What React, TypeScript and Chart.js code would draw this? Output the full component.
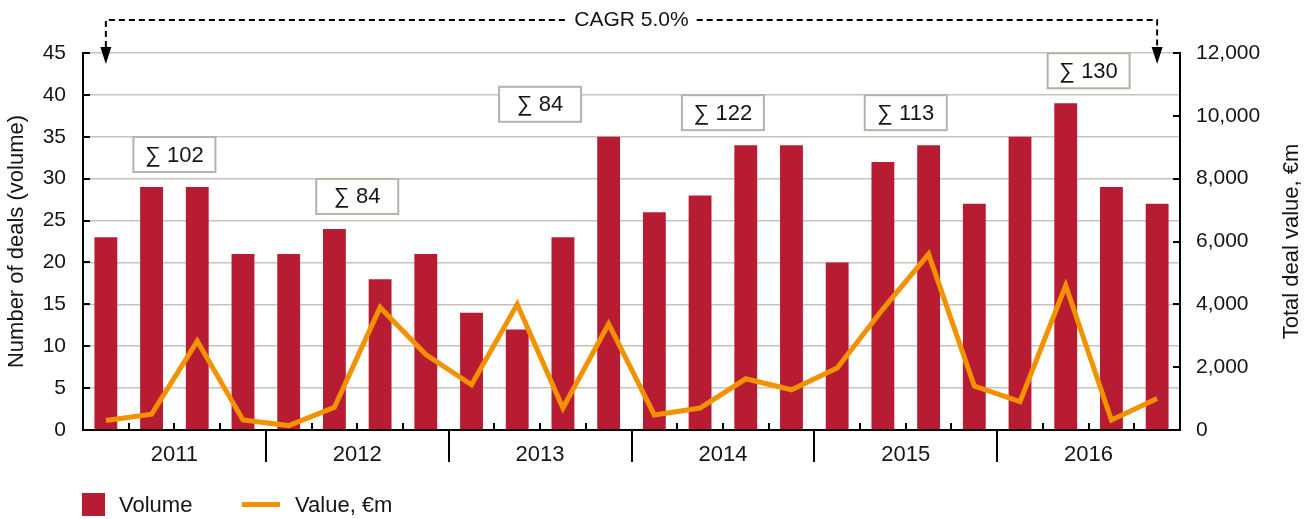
import React, { useEffect, useRef } from "react";
import { Chart, registerables } from "chart.js";

Chart.register(...registerables);

// ---- data ----
const quarters = [
  "Q1 2011", "Q2 2011", "Q3 2011", "Q4 2011",
  "Q1 2012", "Q2 2012", "Q3 2012", "Q4 2012",
  "Q1 2013", "Q2 2013", "Q3 2013", "Q4 2013",
  "Q1 2014", "Q2 2014", "Q3 2014", "Q4 2014",
  "Q1 2015", "Q2 2015", "Q3 2015", "Q4 2015",
  "Q1 2016", "Q2 2016", "Q3 2016", "Q4 2016",
];
const years = ["2011", "2012", "2013", "2014", "2015", "2016"];
const volume = [23, 29, 29, 21, 21, 24, 18, 21, 14, 12, 23, 35, 26, 28, 34, 34, 20, 32, 34, 27, 35, 39, 29, 27];
const valueEm = [300, 500, 2830, 320, 140, 725, 3900, 2400, 1440, 4000, 700, 3380, 480, 700, 1630, 1280, 1970, 3850, 5600, 1400, 900, 4600, 320, 1000];
const volumeTicks = { min: 0, max: 45, step: 5 };
const valueTicks = { min: 0, max: 12000, step: 2000 };
const cagrLabel = "CAGR 5.0%";
const seriesNames = { volume: "Volume", value: "Value, €m" };
const axisTitles = { left: "Number of deals (volume)", right: "Total deal value, €m" };

const RED = "#b71c32";
const ORANGE = "#f39200";
const FAMILY = "'Liberation Sans', Arial, sans-serif";
const FONT = "21px " + FAMILY;
const FONT_L = "22px " + FAMILY;
const TEXT = "#151515";

const decor = {
  id: "decor",
  afterDraw(chart: any) {
    const ctx = chart.ctx;
    const x = chart.scales.x;
    const yL = chart.scales.y;
    const yR = chart.scales.y1;
    const a = chart.chartArea;
    const n = quarters.length;
    const bound = (i: number) => (x.getPixelForValue(i - 1) + x.getPixelForValue(i)) / 2;
    ctx.save();
    ctx.strokeStyle = "#000";
    ctx.lineWidth = 2;
    // minor x ticks (inside) and year separators (outside)
    for (let i = 1; i < n; i++) {
      const px = Math.round(bound(i));
      ctx.beginPath();
      if (i % 4 === 0) {
        ctx.moveTo(px, a.bottom);
        ctx.lineTo(px, a.bottom + 32);
      } else {
        ctx.moveTo(px, a.bottom);
        ctx.lineTo(px, a.bottom - 7);
      }
      ctx.stroke();
    }
    // inner y ticks
    yL.ticks.forEach((t: any) => {
      if (t.value === 0) return;
      const py = Math.round(yL.getPixelForValue(t.value));
      ctx.beginPath();
      ctx.moveTo(a.left, py);
      ctx.lineTo(a.left + 7, py);
      ctx.stroke();
    });
    yR.ticks.forEach((t: any) => {
      if (t.value === 0) return;
      const py = Math.round(yR.getPixelForValue(t.value));
      ctx.beginPath();
      ctx.moveTo(a.right, py);
      ctx.lineTo(a.right - 7, py);
      ctx.stroke();
    });

    ctx.fillStyle = TEXT;
    ctx.textAlign = "center";
    ctx.textBaseline = "middle";
    // year labels + sum boxes
    years.forEach((yr, k) => {
      const idx = [0, 1, 2, 3].map((j) => k * 4 + j);
      const cx = idx.reduce((s, i) => s + x.getPixelForValue(i), 0) / 4;
      ctx.font = FONT_L;
      ctx.fillStyle = TEXT;
      ctx.fillText(yr, cx, a.bottom + 25);
      const vals = idx.map((i) => volume[i]);
      const sum = vals.reduce((s, v) => s + v, 0);
      const top = yL.getPixelForValue(Math.max(...vals));
      const bh = 35, bw = 82;
      const by = top - 15 - bh;
      ctx.fillStyle = "#fff";
      ctx.fillRect(cx - bw / 2, by, bw, bh);
      ctx.strokeStyle = "#b8b0a9";
      ctx.lineWidth = 2;
      ctx.strokeRect(cx - bw / 2, by, bw, bh);
      ctx.fillStyle = TEXT;
      ctx.font = FONT_L;
      ctx.fillText("\u2211 " + sum, cx, by + bh / 2 + 1);
    });

    // CAGR arrow
    ctx.font = FONT;
    const x1 = x.getPixelForValue(0);
    const x2 = x.getPixelForValue(n - 1);
    const cy = 20;
    const mid = (x1 + x2) / 2;
    const tw = ctx.measureText(cagrLabel).width;
    ctx.fillStyle = TEXT;
    ctx.fillText(cagrLabel, mid, cy);
    ctx.strokeStyle = "#000";
    ctx.lineWidth = 2;
    ctx.setLineDash([6, 4]);
    ctx.beginPath();
    ctx.moveTo(x1, 47);
    ctx.lineTo(x1, cy);
    ctx.lineTo(mid - tw / 2 - 8, cy);
    ctx.moveTo(mid + tw / 2 + 8, cy);
    ctx.lineTo(x2, cy);
    ctx.lineTo(x2, 47);
    ctx.stroke();
    ctx.setLineDash([]);
    ctx.fillStyle = "#000";
    [x1, x2].forEach((px) => {
      ctx.beginPath();
      ctx.moveTo(px - 5.5, 47);
      ctx.lineTo(px + 5.5, 47);
      ctx.lineTo(px, 64);
      ctx.closePath();
      ctx.fill();
    });

    // axis titles
    ctx.font = FONT_L;
    const ymid = (a.top + a.bottom) / 2;
    ctx.fillStyle = TEXT;
    ctx.save();
    ctx.translate(17, ymid);
    ctx.rotate(-Math.PI / 2);
    ctx.fillText(axisTitles.left, 0, 0);
    ctx.restore();
    ctx.save();
    ctx.translate(1292, ymid);
    ctx.rotate(-Math.PI / 2);
    ctx.fillText(axisTitles.right, 0, 0);
    ctx.restore();

    // legend
    const ds = chart.data.datasets;
    ctx.textAlign = "left";
    ctx.fillStyle = ds[0].backgroundColor;
    ctx.fillRect(82, 493, 23, 23);
    ctx.fillStyle = TEXT;
    ctx.fillText(ds[0].label, 119, 506);
    ctx.strokeStyle = ds[1].borderColor;
    ctx.lineWidth = 5;
    ctx.beginPath();
    ctx.moveTo(242, 504.5);
    ctx.lineTo(280, 504.5);
    ctx.stroke();
    ctx.fillStyle = TEXT;
    ctx.fillText(ds[1].label, 295, 506);
    ctx.restore();
  },
};

export default function App() {
  const ref = useRef<HTMLCanvasElement | null>(null);
  useEffect(() => {
    if (!ref.current) return;
    const tickFont = { family: FAMILY, size: 21 };
    const chart = new Chart(ref.current, {
      type: "bar",
      data: {
        labels: quarters,
        datasets: [
          {
            type: "bar",
            label: seriesNames.volume,
            data: volume,
            backgroundColor: RED,
            yAxisID: "y",
            order: 1,
            categoryPercentage: 1,
            barPercentage: 0.5,
          } as any,
          {
            type: "line",
            label: seriesNames.value,
            data: valueEm,
            borderColor: ORANGE,
            backgroundColor: ORANGE,
            borderWidth: 5,
            pointRadius: 0,
            tension: 0,
            borderJoinStyle: "miter",
            yAxisID: "y1",
            order: 0,
          } as any,
        ],
      },
      options: {
        animation: false,
        responsive: true,
        maintainAspectRatio: false,
        layout: { padding: { top: 53, left: 0, right: 0, bottom: 0 } },
        plugins: { legend: { display: false }, tooltip: { enabled: false } },
        scales: {
          x: {
            ticks: { display: false },
            grid: { display: false },
            border: { display: true, color: "#000", width: 2 },
            afterFit: (s: any) => { s.height = 89; },
          },
          y: {
            position: "left",
            min: volumeTicks.min,
            max: volumeTicks.max,
            ticks: { stepSize: volumeTicks.step, font: tickFont, color: TEXT, padding: 17 },
            grid: { color: "#cac3bc", lineWidth: 1.5, drawTicks: false },
            border: { display: true, color: "#000", width: 2 },
            afterFit: (s: any) => { s.width = 83; },
          },
          y1: {
            position: "right",
            min: valueTicks.min,
            max: valueTicks.max,
            ticks: {
              stepSize: valueTicks.step,
              font: tickFont,
              color: TEXT,
              padding: 16,
              callback: (v: any) => Number(v).toLocaleString("en-US"),
            },
            grid: { display: false, drawTicks: false },
            border: { display: true, color: "#000", width: 2 },
            afterFit: (s: any) => { s.width = 128; },
          },
        },
      },
      plugins: [decor],
    });
    return () => chart.destroy();
  }, []);
  return (
    <div style={{ position: "fixed", left: 0, top: 0, width: 1308, height: 519, background: "#fff" }}>
      <canvas ref={ref} />
    </div>
  );
}
